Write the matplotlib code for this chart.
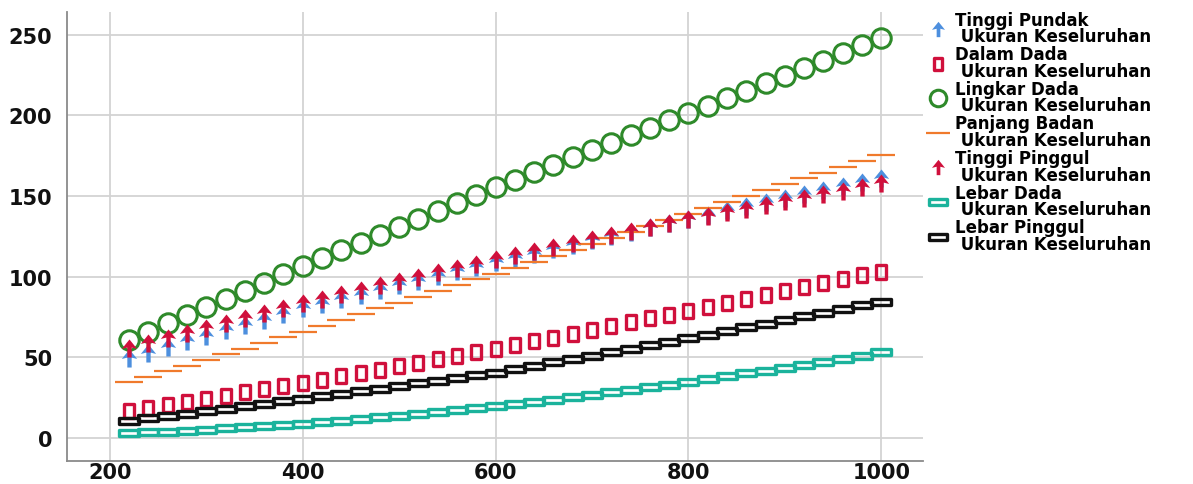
import matplotlib
matplotlib.use("Agg")
import matplotlib.pyplot as plt
from matplotlib.path import Path
import numpy as np

# ---------------- data ----------------
x_values = list(range(220, 1001, 20))

tinggi_pundak = [49.6, 53.0, 56.4, 59.9, 63.3, 66.7, 70.1, 73.5, 77.0, 80.4,
                 83.3, 86.1, 89.0, 91.8, 94.7, 97.6, 100.4, 103.3, 106.1, 109.0,
                 111.7, 114.4, 117.1, 119.8, 122.5, 125.2, 127.9, 130.6, 133.3, 136.0,
                 138.5, 141.1, 143.6, 146.2, 148.7, 151.2, 153.8, 156.3, 158.9, 161.4]
dalam_dada = [16.9, 18.8, 20.7, 22.6, 24.5, 26.4, 28.3, 30.2, 32.1, 34.0,
              36.1, 38.2, 40.4, 42.5, 44.6, 46.7, 48.8, 51.0, 53.1, 55.2,
              57.6, 60.0, 62.3, 64.7, 67.1, 69.5, 71.9, 74.2, 76.6, 79.0,
              81.4, 83.8, 86.3, 88.7, 91.1, 93.5, 95.9, 98.4, 100.8, 103.2]
lingkar_dada = [61.0, 66.0, 71.1, 76.2, 81.3, 86.3, 91.3, 96.4, 101.4, 106.5,
                111.4, 116.3, 121.2, 126.1, 131.0, 135.9, 140.8, 145.7, 150.6, 155.5,
                160.1, 164.7, 169.3, 173.9, 178.5, 183.1, 187.7, 192.3, 196.9, 201.5,
                206.1, 210.8, 215.4, 220.1, 224.7, 229.4, 234.0, 238.7, 243.3, 248.0]
panjang_badan = [34.6, 38.1, 41.6, 45.0, 48.5, 52.0, 55.5, 59.0, 62.5, 66.0,
                 69.6, 73.2, 76.8, 80.4, 84.0, 87.6, 91.2, 94.8, 98.4, 102.0,
                 105.7, 109.4, 113.0, 116.7, 120.4, 124.1, 127.8, 131.4, 135.1, 138.8,
                 142.5, 146.2, 149.9, 153.6, 157.3, 160.9, 164.6, 168.3, 172.0, 175.7]
tinggi_pinggul = [55.8, 58.9, 62.0, 65.1, 68.2, 71.3, 74.4, 77.5, 80.6, 83.7,
                  86.4, 89.1, 91.9, 94.6, 97.3, 100.0, 102.7, 105.5, 108.2, 110.9,
                  113.4, 115.8, 118.3, 120.7, 123.2, 125.7, 128.1, 130.6, 133.0, 135.5,
                  137.7, 140.0, 142.2, 144.5, 146.7, 148.9, 151.2, 153.4, 155.7, 157.9]
lebar_dada = [2.9, 3.5, 4.1, 4.7, 5.3, 6.0, 6.7, 7.4, 8.2, 9.0,
              9.9, 10.8, 11.8, 12.8, 13.8, 14.9, 16.0, 17.2, 18.4, 19.6,
              21.0, 22.4, 23.8, 25.3, 26.8, 28.3, 29.9, 31.5, 33.2, 34.9,
              36.6, 38.3, 40.1, 41.9, 43.7, 45.5, 47.4, 49.3, 51.2, 53.1]
lebar_pinggul = [10.7, 12.2, 13.7, 15.2, 16.7, 18.2, 19.7, 21.2, 22.7, 24.2,
                 25.8, 27.5, 29.1, 30.7, 32.4, 34.0, 35.6, 37.2, 38.9, 40.5,
                 42.6, 44.8, 46.9, 49.0, 51.2, 53.3, 55.4, 57.5, 59.7, 61.8,
                 64.1, 66.3, 68.6, 70.9, 73.2, 75.4, 77.7, 80.0, 82.2, 84.5]

labels = ["Tinggi Pundak\n Ukuran Keseluruhan",
          "Dalam Dada\n Ukuran Keseluruhan",
          "Lingkar Dada\n Ukuran Keseluruhan",
          "Panjang Badan\n Ukuran Keseluruhan",
          "Tinggi Pinggul\n Ukuran Keseluruhan",
          "Lebar Dada\n Ukuran Keseluruhan",
          "Lebar Pinggul\n Ukuran Keseluruhan"]
x_ticks = [200, 400, 600, 800, 1000]
y_ticks = [0, 50, 100, 150, 200, 250]

# ---------------- marker shapes ----------------
arrow_path = Path([(-0.24, -1.0), (0.24, -1.0), (0.24, 0.1), (0.85, -0.05),
                   (0.0, 1.0), (-0.85, -0.05), (-0.24, 0.1), (-0.24, -1.0)],
                  [Path.MOVETO] + [Path.LINETO] * 6 + [Path.CLOSEPOLY])
tall_rect = Path([(-0.62, -1), (0.62, -1), (0.62, 1), (-0.62, 1), (-0.62, -1)],
                 [Path.MOVETO] + [Path.LINETO] * 3 + [Path.CLOSEPOLY])
wide_rect = Path([(-1, -0.3), (1, -0.3), (1, 0.3), (-1, 0.3), (-1, -0.3)],
                 [Path.MOVETO] + [Path.LINETO] * 3 + [Path.CLOSEPOLY])

C_BLUE = "#4d8fde"
C_RED = "#d0103c"
C_GREEN = "#2e8a2a"
C_ORANGE = "#f07a2c"
C_TEAL = "#1bb39c"
C_BLACK = "#111111"

fig = plt.figure(figsize=(11.93, 4.85), dpi=100)
ax = fig.add_axes([0.0565, 0.048, 0.717, 0.925])

ax.plot(x_values, tinggi_pundak, linestyle="none", marker=arrow_path, markersize=13,
        color=C_BLUE, markeredgewidth=0, label=labels[0], zorder=3)
ax.plot(x_values, dalam_dada, linestyle="none", marker=tall_rect, markersize=10.5,
        markerfacecolor="none", markeredgecolor=C_RED, markeredgewidth=2.4,
        label=labels[1], zorder=3)
ax.plot(x_values, lingkar_dada, linestyle="none", marker="o", markersize=14,
        markerfacecolor="none", markeredgecolor=C_GREEN, markeredgewidth=2.2,
        label=labels[2], zorder=3)
ax.plot(x_values, panjang_badan, linestyle="none", marker="_", markersize=20,
        markeredgecolor=C_ORANGE, markeredgewidth=1.6, label=labels[3], zorder=3)
ax.plot(x_values, tinggi_pinggul, linestyle="none", marker=arrow_path, markersize=13,
        color=C_RED, markeredgewidth=0, label=labels[4], zorder=4)
ax.plot(x_values, lebar_dada, linestyle="none", marker=wide_rect, markersize=14.5,
        markerfacecolor="none", markeredgecolor=C_TEAL, markeredgewidth=2.4,
        label=labels[5], zorder=3)
ax.plot(x_values, lebar_pinggul, linestyle="none", marker=wide_rect, markersize=14.5,
        markerfacecolor="none", markeredgecolor=C_BLACK, markeredgewidth=2.4,
        label=labels[6], zorder=3)

ax.set_xlim(156, 1043)
ax.set_ylim(-14, 264)
ax.set_xticks(x_ticks)
ax.set_yticks(y_ticks)
ax.grid(True, color="#d3d3d3", linewidth=1.3, zorder=0)
ax.set_axisbelow(True)
for s in ["top", "right"]:
    ax.spines[s].set_visible(False)
for s in ["left", "bottom"]:
    ax.spines[s].set_color("#8a8a8a")
    ax.spines[s].set_linewidth(1.3)
ax.tick_params(axis="both", length=0, labelsize=15, colors="#111111")
ax.tick_params(axis="y", pad=11)
ax.tick_params(axis="x", pad=1)
for lbl in ax.get_xticklabels() + ax.get_yticklabels():
    lbl.set_fontweight("bold")
    lbl.set_family("DejaVu Sans")

leg = fig.legend(loc="upper left", bbox_to_anchor=(0.774, 0.99), frameon=False,
                 prop={"family": "DejaVu Sans", "weight": "bold", "size": 12},
                 handlelength=1.0, handletextpad=0.5, labelspacing=0.0,
                 borderaxespad=0.0, markerscale=0.85)
for t in leg.get_texts():
    t.set_linespacing(0.9)

fig.savefig("out.png", dpi=100)
